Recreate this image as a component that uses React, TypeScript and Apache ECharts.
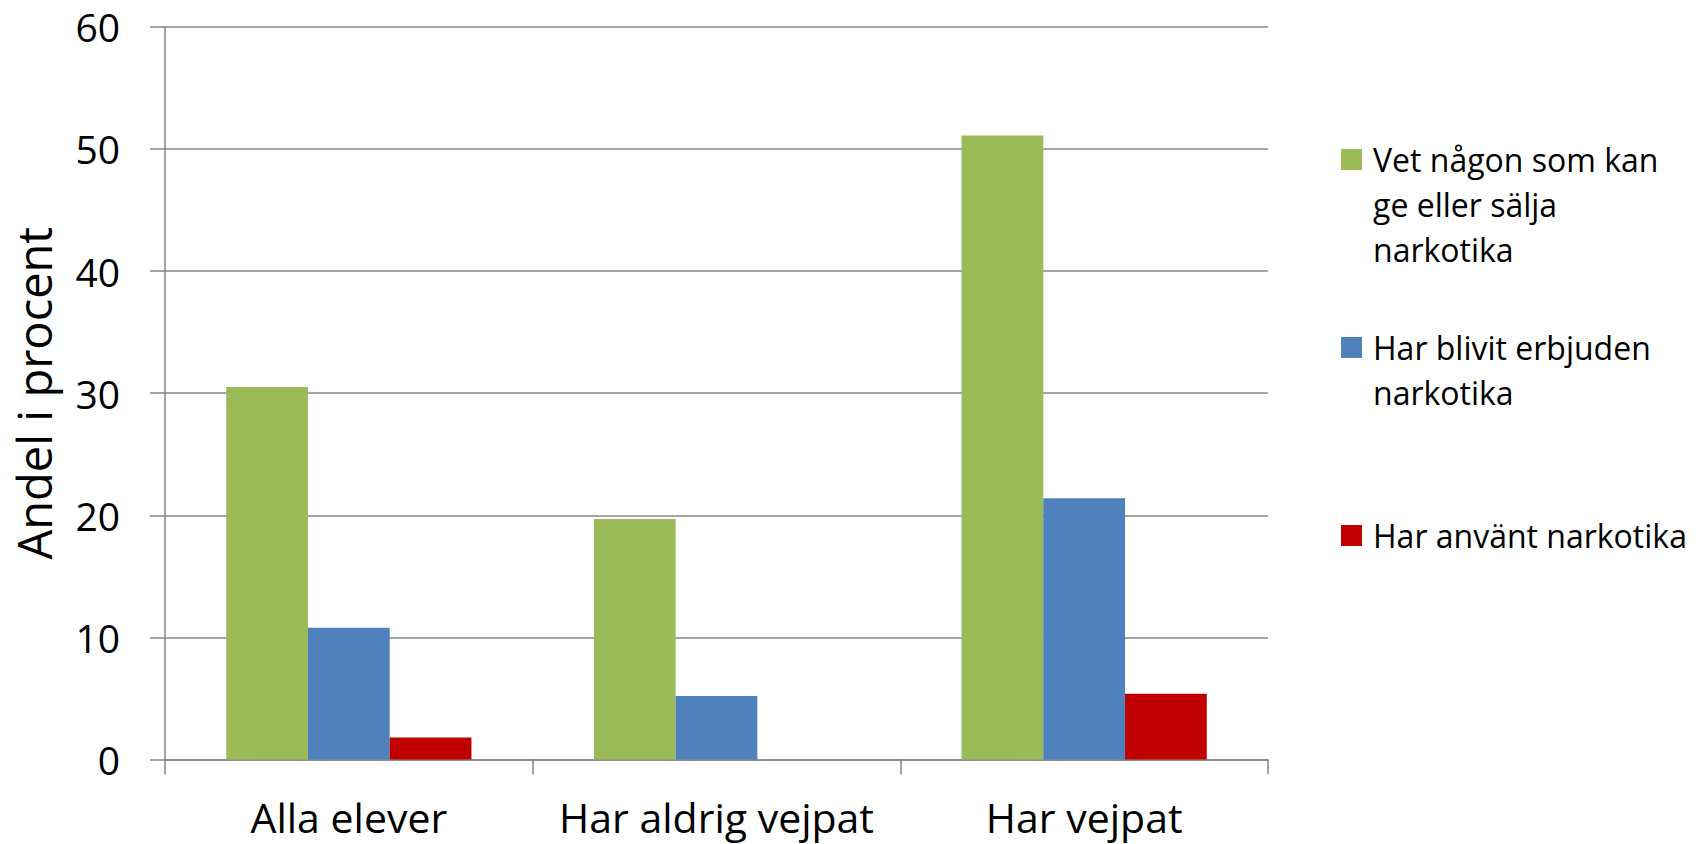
import React, { useEffect, useRef } from "react";
import * as echarts from "echarts";

const categories = ["Alla elever", "Har aldrig vejpat", "Har vejpat"];
const vetNagon = [30.5, 19.7, 51.1];
const erbjuden = [10.8, 5.2, 21.4];
const anvant = [1.8, 0, 5.4];

const seriesNames = [
  "Vet någon som kan ge eller sälja narkotika",
  "Har blivit erbjuden narkotika",
  "Har använt narkotika",
];
const legendLines = [
  ["Vet någon som kan", "ge eller sälja", "narkotika"],
  ["Har blivit erbjuden", "narkotika"],
  ["Har använt narkotika"],
];
const colors = ["#9BBB59", "#4F81BD", "#C00000"];

const FONT = "'Open Sans', 'Noto Sans', sans-serif";
const LEGEND_LH = 45;
const legendCenters = [159.5, 347.5, 535.5];

export default function App() {
  const ref = useRef<HTMLDivElement>(null);

  useEffect(() => {
    if (!ref.current) return;
    const chart = echarts.init(ref.current, undefined, { renderer: "svg" });
    const values = [vetNagon, erbjuden, anvant];

    const legends = seriesNames.map((name, i) => {
      const n = legendLines[i].length;
      const boxH = (2 * n - 1) * LEGEND_LH;
      // blank lines before the text so the first line sits level with the icon
      const text = new Array(n - 1).fill(" ").concat(legendLines[i]).join("\n");
      return {
        data: [name],
        orient: "vertical",
        left: 1341,
        top: legendCenters[i] - boxH / 2,
        padding: 0,
        itemWidth: 21,
        itemHeight: 21,
        icon: "rect",
        selectedMode: false,
        formatter: () => text,
        textStyle: {
          fontFamily: FONT,
          fontSize: 32,
          lineHeight: LEGEND_LH,
          color: "#000",
          padding: [0, 0, 0, 6],
        },
      };
    });

    chart.setOption({
      animation: false,
      backgroundColor: "#fff",
      grid: {
        left: 165,
        right: 436,
        top: 26.7,
        bottom: 84.4,
        containLabel: false,
      },
      legend: legends,
      xAxis: {
        type: "category",
        data: categories,
        axisLine: { show: true, lineStyle: { color: "#868686", width: 1.5 } },
        axisTick: { show: true, length: 15, lineStyle: { color: "#868686", width: 1.5 } },
        axisLabel: {
          fontFamily: FONT,
          fontSize: 41,
          lineHeight: 34,
          color: "#000",
          margin: 40,
          interval: 0,
        },
        splitLine: { show: false },
      },
      yAxis: {
        type: "value",
        min: 0,
        max: 60,
        interval: 10,
        name: "Andel i procent",
        nameLocation: "middle",
        nameGap: 108,
        nameTextStyle: { fontFamily: FONT, fontSize: 47, color: "#000" },
        axisLine: { show: true, lineStyle: { color: "#868686", width: 1.5 } },
        axisTick: { show: true, length: 15, lineStyle: { color: "#868686", width: 1.5 } },
        axisLabel: { fontFamily: FONT, fontSize: 39, color: "#000", margin: 45 },
        splitLine: { show: true, lineStyle: { color: "#868686", width: 1.5 } },
      },
      series: seriesNames.map((name, i) => ({
        name,
        type: "bar",
        data: values[i],
        barGap: "0%",
        barCategoryGap: "33.3%",
        itemStyle: { color: colors[i] },
      })),
    });

    return () => chart.dispose();
  }, []);

  return (
    <div
      ref={ref}
      style={{ position: "fixed", left: 0, top: 0, width: 1704, height: 844 }}
    />
  );
}
